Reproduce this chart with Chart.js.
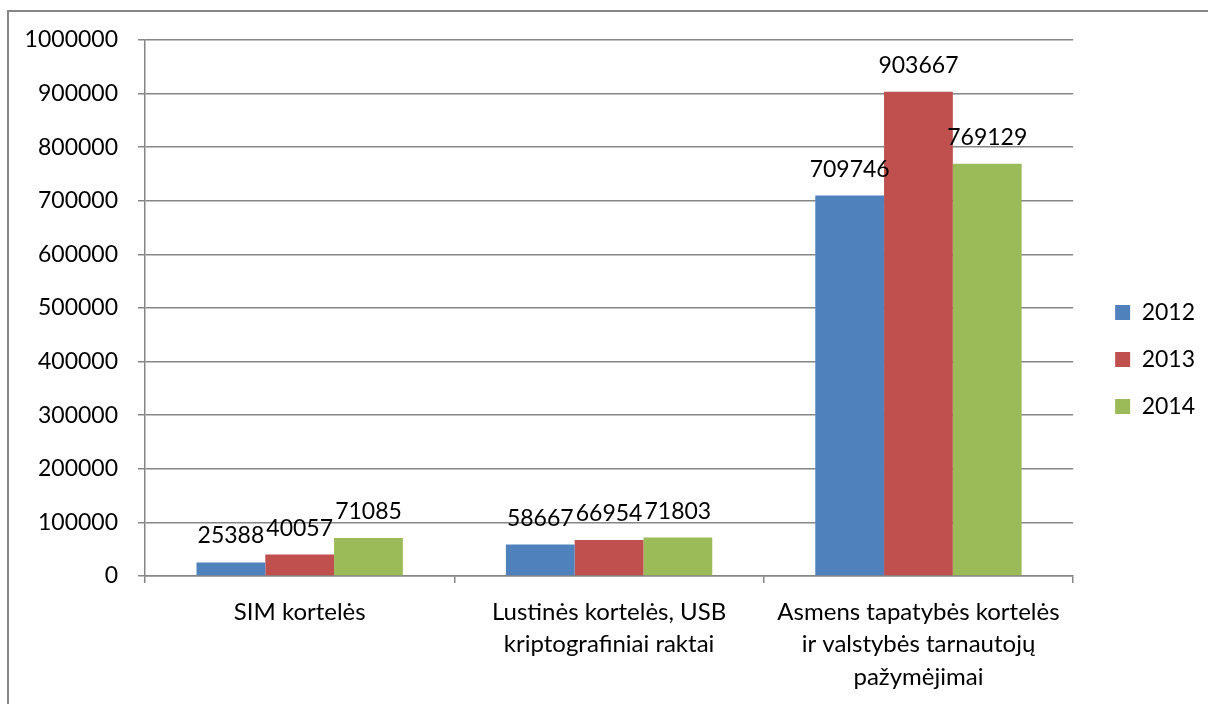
<!DOCTYPE html>
<html>
<head>
<meta charset="utf-8">
<script src="https://cdn.jsdelivr.net/npm/chart.js@4/dist/chart.umd.min.js"></script>
<style>
  html, body { margin: 0; padding: 0; background: #fff; }
  #wrap { width: 1208px; height: 704px; position: relative; }
</style>
</head>
<body>
<div id="wrap"><canvas id="cardsChart" width="1208" height="704"></canvas></div>
<script>
const CATEGORIES = [
  ['SIM kortelės'],
  ['Lustinės kortelės, USB', 'kriptografiniai raktai'],
  ['Asmens tapatybės kortelės', 'ir valstybės tarnautojų', 'pažymėjimai']
];
const YEARS = ['2012', '2013', '2014'];
const VALUES_2012 = [25388, 58667, 709746];
const VALUES_2013 = [40057, 66954, 903667];
const VALUES_2014 = [71085, 71803, 769129];
const Y_TICKS = [0, 100000, 200000, 300000, 400000, 500000, 600000, 700000, 800000, 900000, 1000000];
const COLORS = ['#4F81BD', '#C0504D', '#9BBB59'];

const FONT = { family: 'Lato, "Open Sans", sans-serif', size: 23 };
const GRAY = '#868686';
const PAD_BOTTOM = 14;

// outer frame like the original office chart box
const framePlugin = {
  id: 'frame',
  beforeDraw(chart){
    const ctx = chart.ctx;
    ctx.save();
    ctx.strokeStyle = GRAY;
    ctx.lineWidth = 2;
    ctx.strokeRect(8, 11, 1400, 900);
    ctx.restore();
  }
};

// value printed on top of each bar
const valueLabels = {
  id: 'valueLabels',
  afterDatasetsDraw(chart){
    const ctx = chart.ctx;
    ctx.save();
    ctx.font = `${FONT.size}px ${FONT.family}`;
    ctx.fillStyle = '#000';
    ctx.textAlign = 'center';
    ctx.textBaseline = 'alphabetic';
    chart.data.datasets.forEach((ds, i)=>{
      chart.getDatasetMeta(i).data.forEach((bar, j)=>{
        ctx.fillText(String(ds.data[j]), bar.x, bar.y - 19);
      });
    });
    ctx.restore();
  }
};

const ctx = document.getElementById('cardsChart').getContext('2d');
new Chart(ctx, {
  type: 'bar',
  data: {
    labels: CATEGORIES,
    datasets: [
      { label: YEARS[0], data: VALUES_2012, backgroundColor: COLORS[0] },
      { label: YEARS[1], data: VALUES_2013, backgroundColor: COLORS[1] },
      { label: YEARS[2], data: VALUES_2014, backgroundColor: COLORS[2] }
    ]
  },
  options: {
    responsive: false,
    animation: false,
    barPercentage: 1,
    categoryPercentage: 0.667,
    layout: { padding: { left: 0, right: 3, top: 29, bottom: PAD_BOTTOM } },
    plugins: {
      legend: {
        position: 'right',
        labels: { boxWidth: 15, boxHeight: 15, padding: 24, color: '#000', font: FONT }
      },
      tooltip: { enabled: false }
    },
    scales: {
      x: {
        grid: { display: true, drawOnChartArea: false, drawTicks: true, tickLength: 7, color: GRAY, lineWidth: 1.5 },
        border: { color: GRAY, width: 1.5 },
        ticks: { color: '#000', font: { ...FONT, size: 24, lineHeight: 1.35 }, padding: 13, maxRotation: 0, autoSkip: false },
        afterFit: s => { s.height = 704 - 576 - PAD_BOTTOM; }
      },
      y: {
        min: 0,
        max: 1000000,
        grid: { color: GRAY, lineWidth: 1.5, tickLength: 7 },
        border: { color: GRAY, width: 1.5 },
        ticks: { color: '#000', font: FONT, padding: 20, callback: v => String(v) },
        afterBuildTicks: s => { s.ticks = Y_TICKS.map(v => ({ value: v })); },
        afterFit: s => { s.width = 145; s.paddingTop = 40; }
      },
      pad: {
        type: 'linear',
        position: 'right',
        display: true,
        grid: { display: false },
        border: { display: false },
        ticks: { display: false },
        afterFit: s => { s.width = 18; }
      }
    }
  },
  plugins: [framePlugin, valueLabels]
});
</script>
</body>
</html>
